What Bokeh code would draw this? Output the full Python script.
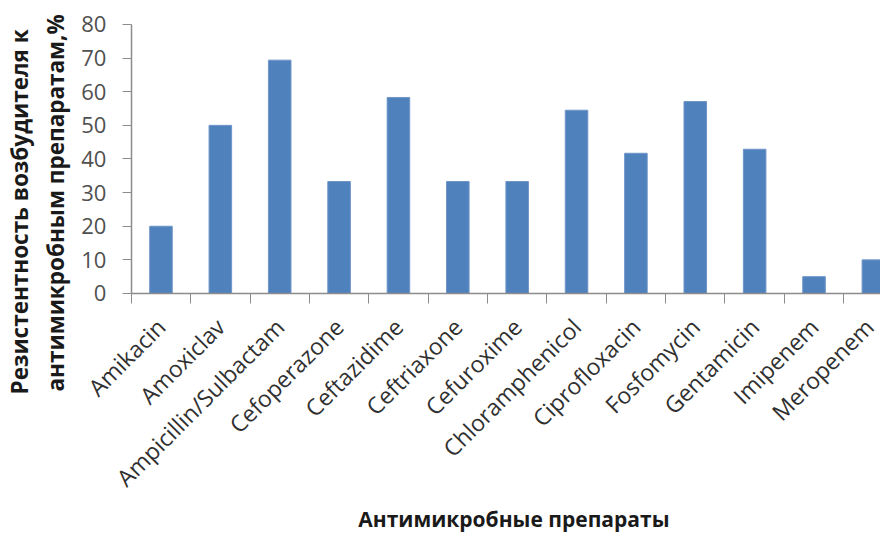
from math import pi
from bokeh.plotting import figure
from bokeh.models import FixedTicker, Range1d, Title, Label, ColumnDataSource
from bokeh.embed import file_html
from bokeh.resources import INLINE

# ---- data ----
drugs = ["Amikacin", "Amoxiclav", "Ampicillin/Sulbactam", "Cefoperazone",
         "Ceftazidime", "Ceftriaxone", "Cefuroxime", "Chloramphenicol",
         "Ciprofloxacin", "Fosfomycin", "Gentamicin", "Imipenem", "Meropenem"]
resistance = [20, 50, 69.4, 33.3, 58.3, 33.3, 33.3, 54.5, 41.7, 57.1, 42.9, 5, 10]
y_ticks = [0, 10, 20, 30, 40, 50, 60, 70, 80]
x_title = "Антимикробные препараты"
y_title_1 = "Резистентность возбудителя к"
y_title_2 = "антимикробным препаратам,%"

centers = [i + 0.5 for i in range(len(drugs))]
bounds = [float(i) for i in range(len(drugs))]

src = ColumnDataSource(dict(x=centers, top=resistance, name=drugs))

# Both axes sit inside the frame (at x = 0 and y = 0) so their labels are not
# clipped; the frame reaches from x=70px to the right edge, y=10px to bottom.
p = figure(width=880, height=535, output_backend="svg", toolbar_location=None,
           x_range=Range1d(-0.9735, 12.62), y_range=Range1d(-71.97, 84.16),
           min_border_left=70, min_border_right=0, min_border_top=10,
           min_border_bottom=0)
p.outline_line_color = None
p.xgrid.visible = False
p.ygrid.visible = False
p.background_fill_color = "white"
p.border_fill_color = "white"

p.vbar(x="x", top="top", bottom=0, width=0.38, source=src,
       fill_color="#4F81BD", line_color="#6F96C8", line_width=1)

axis_gray = "#8C8C8C"

# x axis
xa = p.xaxis[0]
xa.fixed_location = 0
xa.bounds = (0, 12.62)
xa.ticker = FixedTicker(ticks=centers, minor_ticks=bounds)
xa.major_label_overrides = {c: d for c, d in zip(centers, drugs)}
xa.major_label_orientation = pi / 4
xa.major_tick_line_color = None
xa.minor_tick_line_color = axis_gray
xa.minor_tick_in = 0
xa.minor_tick_out = 10
xa.axis_line_color = axis_gray
xa.axis_line_width = 1.5
xa.major_label_text_font = "Open Sans"
xa.major_label_text_font_size = "23px"
xa.major_label_text_color = "#303030"
xa.major_label_standoff = 19

# y axis
ya = p.yaxis[0]
ya.fixed_location = 0
ya.ticker = FixedTicker(ticks=y_ticks, minor_ticks=[])
ya.bounds = (0, 80)
ya.major_tick_line_color = axis_gray
ya.major_tick_in = 0
ya.major_tick_out = 9
ya.minor_tick_line_color = None
ya.axis_line_color = axis_gray
ya.axis_line_width = 1.5
ya.major_label_text_font = "Open Sans"
ya.major_label_text_font_size = "22px"
ya.major_label_text_color = "#505050"
ya.major_label_standoff = 16

# titles
common = dict(text_font="Open Sans", text_font_style="bold",
              text_color="#1a1a1a")
p.add_layout(Title(text=y_title_2, align="left", offset=144,
                   text_font_size="22.5px", standoff=5, **common), "left")
p.add_layout(Title(text=y_title_1, align="left", offset=141,
                   text_font_size="22.5px", standoff=2, **common), "left")
p.add_layout(Label(x=6.445, y=-67.2, text=x_title, text_font="Open Sans",
                   text_font_style="bold", text_font_size="21px",
                   text_color="#1a1a1a", text_align="center",
                   text_baseline="middle"))

open("out.html", "w").write(file_html(p, INLINE))
